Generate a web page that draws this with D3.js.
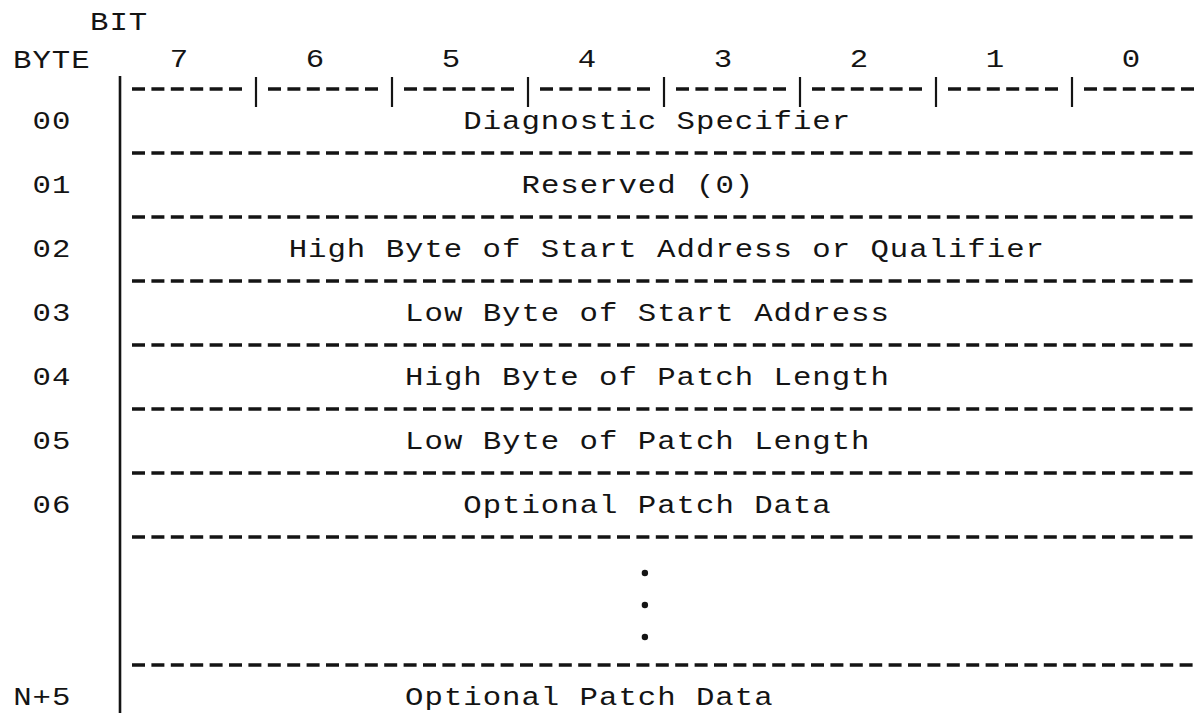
<!DOCTYPE html>
<html>
<head>
<meta charset="utf-8">
<script src="https://cdn.jsdelivr.net/npm/d3@7"></script>
<style>
  html, body { margin: 0; padding: 0; background: #fff; }
  svg { display: block; }
  text { font-family: "Liberation Mono", "DejaVu Sans Mono", monospace; fill: #141414; }
</style>
</head>
<body>
<svg id="chart" width="1200" height="724"></svg>
<script>
// ---- data ----
const bits = [7, 6, 5, 4, 3, 2, 1, 0];
const byteLabels = ["00", "01", "02", "03", "04", "05", "06", "", "N+5"];
const fieldNames = [
  "Diagnostic Specifier",
  "Reserved (0)",
  "High Byte of Start Address or Qualifier",
  "Low Byte of Start Address",
  "High Byte of Patch Length",
  "Low Byte of Patch Length",
  "Optional Patch Data",
  "",
  "Optional Patch Data"
];
const rowSpans = [1, 1, 1, 1, 1, 1, 1, 2, 1];   // row heights in row units (ellipsis row is 2)
const ellipsisDots = 3;
const headerBit = "BIT";
const headerByte = "BYTE";

// ---- layout (typewriter grid) ----
const fieldColumns = [17, 20, 8, 14, 14, 14, 17, null, 14]; // start column of each field text
const ellipsisColumn = 26;
const adv = 19.4;          // typewriter character advance
const gridX0 = 133.5;      // x of typewriter column 0
const fontSize = 26;
const sx = 1.18;           // horizontal stretch to mimic wide typewriter glyphs
const letterSp = adv / sx - fontSize * 0.6001;

const svg = d3.select("#chart");

const xBit = d3.scaleBand().domain(bits).range([120, 1208]).padding(0);
const totalUnits = d3.sum(rowSpans);
const yRow = d3.scaleLinear().domain([0, totalUnits]).range([89, 89 + 64 * totalUnits]);
const rowStart = [];
rowSpans.reduce((acc, s, i) => { rowStart[i] = acc; return acc + s; }, 0);
const col = c => gridX0 + c * adv;

const ink = "#141414";

function tw(sel, x, y, anchor) {
  return sel.attr("transform", `translate(${x},${y}) scale(${sx},1)`)
    .attr("font-size", fontSize)
    .attr("letter-spacing", anchor === "middle" ? 0 : letterSp)
    .attr("text-anchor", anchor || "start");
}

// Header texts
tw(svg.append("text"), 90, 30).text(headerBit);
tw(svg.append("text"), 13, 68).text(headerByte);

// Bit numbers
svg.selectAll("text.bit").data(bits).join("text")
  .attr("class", "bit")
  .each(function (d) { tw(d3.select(this), xBit(d) + 59, 67, "middle"); })
  .text(d => d);

// Left vertical border
svg.append("line")
  .attr("x1", xBit(7)).attr("x2", xBit(7))
  .attr("y1", 76).attr("y2", 713)
  .attr("stroke", ink).attr("stroke-width", 2.6);

// Top row: bit dividers
svg.selectAll("line.div").data(bits.slice(1)).join("line")
  .attr("class", "div")
  .attr("x1", d => xBit(d)).attr("x2", d => xBit(d))
  .attr("y1", 77).attr("y2", 107)
  .attr("stroke", ink).attr("stroke-width", 2.2);

// Top row: dashed segments per bit column
svg.selectAll("line.topdash").data(bits).join("line")
  .attr("class", "topdash")
  .attr("x1", d => xBit(d) + 12)
  .attr("x2", d => Math.min(xBit(d) + 12 + 6 * adv - 6.4, 1197))
  .attr("y1", yRow(0)).attr("y2", yRow(0))
  .attr("stroke", ink).attr("stroke-width", 3.4)
  .attr("stroke-dasharray", `13 ${adv - 13}`);

// Row separator dashed lines (below each row except the last)
const sepIdx = d3.range(rowSpans.length - 1);
svg.selectAll("line.sep").data(sepIdx).join("line")
  .attr("class", "sep")
  .attr("x1", 132).attr("x2", 1197)
  .attr("y1", i => yRow(rowStart[i] + rowSpans[i]))
  .attr("y2", i => yRow(rowStart[i] + rowSpans[i]))
  .attr("stroke", ink).attr("stroke-width", 3.4)
  .attr("stroke-dasharray", `13 ${adv - 13}`);

// Byte labels (right-aligned on the grid)
svg.selectAll("text.byte").data(byteLabels).join("text")
  .attr("class", "byte")
  .each(function (d, i) { tw(d3.select(this), 68 - 16 - (d.length - 1) * adv, yRow(rowStart[i]) + 40); })
  .text(d => d);

// Field names
svg.selectAll("text.field").data(fieldNames.map((f, i) => ({ f, i })).filter(d => d.f)).join("text")
  .attr("class", "field")
  .each(function (d) { tw(d3.select(this), col(fieldColumns[d.i]), yRow(rowStart[d.i]) + 40); })
  .text(d => d.f);

// Ellipsis dots
const eIdx = fieldNames.indexOf("");
const ey0 = yRow(rowStart[eIdx]), ey1 = yRow(rowStart[eIdx] + rowSpans[eIdx]);
const dotY = d3.scaleLinear().domain([0, ellipsisDots + 1]).range([ey0 + 4, ey1 + 4]);
svg.selectAll("circle.dot").data(d3.range(1, ellipsisDots + 1)).join("circle")
  .attr("class", "dot")
  .attr("cx", col(ellipsisColumn) + 7)
  .attr("cy", d => dotY(d))
  .attr("r", 3.2)
  .attr("fill", ink);
</script>
</body>
</html>
